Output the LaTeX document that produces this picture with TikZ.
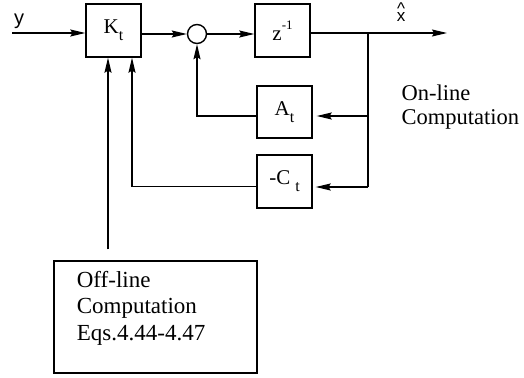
\documentclass[tikz,border=0pt]{standalone}
\usepackage{fontspec}
\setmainfont{Liberation Serif}
\newfontfamily\hvsans{Liberation Sans}
\usetikzlibrary{positioning,arrows.meta}
\newcommand{\sbt}[1]{\raisebox{-0.75ex}{\fontsize{16}{16}\selectfont #1}}

\begin{document}
\begin{tikzpicture}[x=1pt,y=-1pt,>={Stealth[length=15pt,width=7pt,inset=2pt]},line width=1.1pt,
  blk/.style={draw,line width=1.4pt,minimum width=55pt,minimum height=53pt,inner sep=0pt,font=\fontsize{21}{24}\selectfont},
  lbl/.style={font=\fontsize{22.5}{24}\selectfont,align=left,inner sep=0pt},
  sig/.style={font=\hvsans\fontsize{20}{22}\selectfont,inner sep=0pt}]
  \useasboundingbox (0,0) rectangle (524,377);
  % forward path
  \coordinate (yin) at (12,33);
  \node[sig] (ylab) at (19,21){y};
  \node[blk] (K) at (113.5,30.5){K\sbt{t}};
  \node[draw,circle,line width=1.4pt,minimum size=19pt,inner sep=0pt] (sum) at (197,34){};
  \node[blk] (Z) at (282.5,30.5){z\raisebox{1.1ex}{\fontsize{13}{13}\selectfont -1}};
  \coordinate (br) at (368,33);
  \coordinate (xout) at (447,33);
  \node[sig,font=\hvsans\fontsize{17}{20}\selectfont] (xlab) at (401,17){\ooalign{x\cr\hidewidth\raisebox{0.42em}{\^{}}\hidewidth\cr}};
  \draw[->] (yin) -- (yin -| K.west);
  \draw[->] (K.east |- sum) -- (sum.west);
  \draw[->] (sum.east) -- (sum -| Z.west);
  \draw[->] (Z.east |- xout) -- (xout);
  % feedback blocks
  \node[blk,minimum height=52pt] (A) at (284.5,112){A\sbt{t}};
  \node[blk] (C) at (284.5,181.5){-C\hspace{5pt}\sbt{t}};
  \coordinate (ain) at ([yshift=-4pt]A.east);
  \coordinate (cin) at ([yshift=-5.5pt]C.east);
  \coordinate (kl) at ([xshift=-5.5pt]K.south);
  \coordinate (kr) at ([xshift=18.5pt]K.south);
  \draw (br) -- (br |- cin);
  \draw[->,shorten >=4pt] (br |- ain) -- (ain);
  \draw[->,shorten >=3pt] (br |- cin) -- (cin);
  \draw[->] ([yshift=-4pt]A.west) -| (sum.south);
  \draw[->] ([yshift=-5pt]C.west) -| (kr);
  \node[lbl,anchor=west] (onl) at (401,107){On-line\\Computation};
  % off-line part
  \node[draw,line width=1.4pt,minimum width=203pt,minimum height=112pt,inner sep=0pt] (off) at (155.5,317){};
  \node[lbl,font=\fontsize{23}{26.5}\selectfont,anchor=west] (offtxt) at ([xshift=23pt,yshift=9pt]off.west){Off-line\\Computation\\Eqs.4.44-4.47};
  \draw[->] ([yshift=11pt]off.north -| kl) -- (kl);
\end{tikzpicture}
\end{document}
